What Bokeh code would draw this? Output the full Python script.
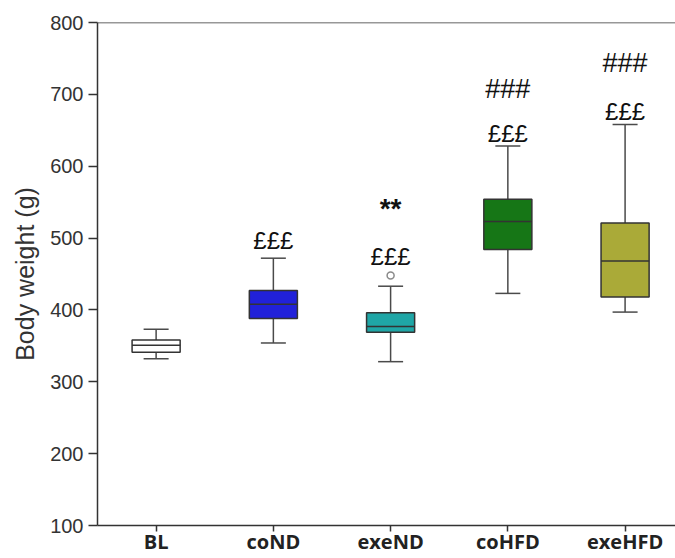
from bokeh.plotting import figure
from bokeh.models import (ColumnDataSource, Range1d, FixedTicker, Span, Whisker,
                          TeeHead)
from bokeh.transform import dodge
from bokeh.core.properties import value
from bokeh.embed import file_html
from bokeh.resources import INLINE

# ---- data ----
categories = ["BL", "coND", "exeND", "coHFD", "exeHFD"]
whisker_low = [332, 354, 328, 423, 397]
q1 = [341, 388, 369, 484, 418]
median = [351, 408, 377, 523, 468]
q3 = [358, 427, 396, 554, 521]
whisker_high = [373, 472, 433, 628, 658]
box_colors = ["#ffffff", "#2121d9", "#1fa6a6", "#167616", "#aaaa38"]

outlier_cat = ["exeND"]
outlier_val = [448]

pound_cats = ["coND", "exeND", "coHFD", "exeHFD"]
pound_y = [496, 475, 645, 676]
hash_cats = ["coHFD", "exeHFD"]
hash_y = [708, 743]
star_cats = ["exeND"]
star_y = [541]

y_ticks = [100, 200, 300, 400, 500, 600, 700, 800]

pos = {c: i + 0.5 for i, c in enumerate(categories)}

src = ColumnDataSource(dict(
    x=[pos[c] for c in categories], lo=whisker_low, q1=q1, med=median,
    q3=q3, hi=whisker_high, color=box_colors))

p = figure(width=675, height=558, output_backend="svg", toolbar_location=None,
           x_range=Range1d(0, 4.93), y_range=Range1d(100, 800),
           min_border_left=97, min_border_right=0, min_border_top=22,
           min_border_bottom=33)
p.outline_line_color = None
p.grid.visible = False
p.background_fill_color = "white"

# whiskers
w = Whisker(source=src, base="x", lower="lo", upper="hi",
            line_color="#4a4a4a", line_width=1.5, level="underlay",
            lower_head=TeeHead(size=25, line_color="#4a4a4a", line_width=1.5),
            upper_head=TeeHead(size=25, line_color="#4a4a4a", line_width=1.5))
p.add_layout(w)

# boxes
p.vbar(x="x", bottom="q1", top="q3", width=0.41, source=src,
       fill_color="color", line_color="#333333", line_width=1.5)
# medians
p.segment(x0=dodge("x", -0.205), x1=dodge("x", 0.205), y0="med", y1="med",
          source=src, line_color="#333333", line_width=1.5)

# outlier
p.scatter([pos[c] for c in outlier_cat], outlier_val, size=7,
          marker="circle", fill_color="white", line_color="#8a8a8a",
          line_width=1.5)

# annotations
font = value("Liberation Sans")
p.text([pos[c] for c in pound_cats], pound_y, text=["£££"] * len(pound_cats),
       text_align="center", text_baseline="middle", text_font=font,
       text_font_size="24px", text_color="#111111")
p.text([pos[c] for c in hash_cats], hash_y, text=["###"] * len(hash_cats),
       text_align="center", text_baseline="middle", text_font=font,
       text_font_size="27px", text_color="#111111")
p.text([pos[c] for c in star_cats], star_y, text=["**"] * len(star_cats),
       text_align="center", text_baseline="middle", text_font=font,
       text_font_size="28px", text_font_style="bold", text_color="#111111")

# top border line
p.add_layout(Span(location=800, dimension="width", line_color="#333333",
                  line_width=1.5))

# x axis
p.xaxis.ticker = FixedTicker(ticks=[pos[c] for c in categories])
p.xaxis.major_label_overrides = {pos[c]: c for c in categories}
p.xaxis.major_label_text_font = "Open Sans"
p.xaxis.major_label_text_font_style = "bold"
p.xaxis.major_label_text_font_size = "20px"
p.xaxis.major_label_text_color = "#222222"
p.xaxis.major_tick_out = 6
p.xaxis.major_tick_in = 0
p.xaxis.minor_tick_line_color = None
p.xaxis.major_label_standoff = -4
p.xaxis.axis_line_color = "#333333"
p.xaxis.axis_line_width = 1.5
p.xaxis.major_tick_line_color = "#333333"
p.xaxis.major_tick_line_width = 1.5

# y axis
p.yaxis.ticker = FixedTicker(ticks=y_ticks)
p.yaxis.axis_label = "Body weight (g)"
p.yaxis.axis_label_text_font = "Liberation Sans"
p.yaxis.axis_label_text_font_style = "normal"
p.yaxis.axis_label_text_font_size = "25px"
p.yaxis.axis_label_text_color = "#333333"
p.yaxis.axis_label_standoff = 8
p.yaxis.major_label_text_font = "Liberation Sans"
p.yaxis.major_label_text_font_size = "20px"
p.yaxis.major_label_text_color = "#333333"
p.yaxis.major_tick_out = 9
p.yaxis.major_tick_in = 0
p.yaxis.minor_tick_line_color = None
p.yaxis.major_label_standoff = 5
p.yaxis.axis_line_color = "#333333"
p.yaxis.axis_line_width = 1.5
p.yaxis.major_tick_line_color = "#333333"
p.yaxis.major_tick_line_width = 1.5

open("out.html", "w").write(file_html(p, INLINE))
